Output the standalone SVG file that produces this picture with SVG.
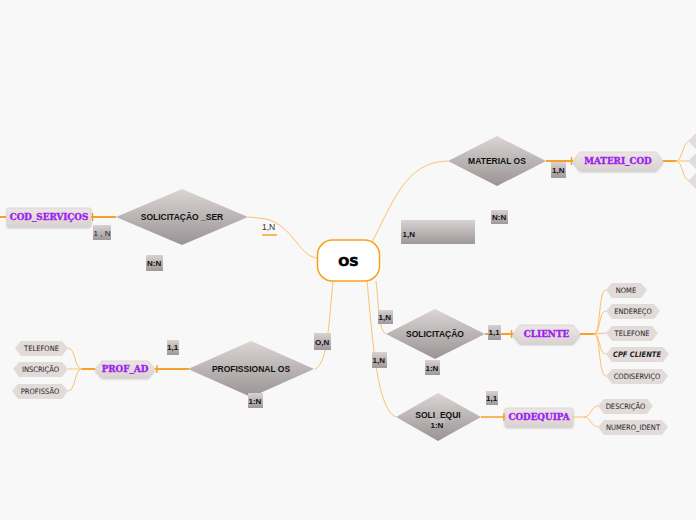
<svg xmlns="http://www.w3.org/2000/svg" width="696" height="520" viewBox="0 0 696 520">
<defs>
<linearGradient id="dg" x1="0" y1="0" x2="0" y2="1"><stop offset="0" stop-color="#dcd5d4"/><stop offset="1" stop-color="#999395"/></linearGradient>
<linearGradient id="eg" x1="0" y1="0" x2="0" y2="1"><stop offset="0" stop-color="#ece6e5"/><stop offset="1" stop-color="#dcd3d2"/></linearGradient>
<linearGradient id="cg" x1="0" y1="0" x2="0" y2="1"><stop offset="0" stop-color="#d8d2d2"/><stop offset="1" stop-color="#9e989a"/></linearGradient>
<filter id="sh" x="-10%" y="-20%" width="130%" height="160%"><feDropShadow dx="0" dy="1.5" stdDeviation="1" flood-color="#000" flood-opacity="0.25"/></filter>
</defs>
<style>
.dia{fill:url(#dg)}
.dt{font-family:"Liberation Sans",Arial,sans-serif;font-weight:bold;font-size:8.5px;fill:#111;text-anchor:middle;dominant-baseline:central}
.ent{fill:url(#eg);stroke:#d4cbca;stroke-width:0.6;filter:url(#sh)}
.et{font-family:"DejaVu Serif",serif;font-weight:bold;font-size:8.8px;fill:#9b22f0;text-anchor:middle;dominant-baseline:central;stroke:#9b22f0;stroke-width:0.35}
.att{fill:#e3dbda}
.at{font-family:"Liberation Sans Narrow","DejaVu Sans Condensed","DejaVu Sans",sans-serif;font-size:7.5px;fill:#222;text-anchor:middle;dominant-baseline:central}
.cb{fill:url(#cg)}
.ct{font-family:"Liberation Sans",Arial,sans-serif;font-weight:bold;font-size:8px;fill:#111;dominant-baseline:central}
.lc{fill:none;stroke:#fbc16e;stroke-width:1}
.lt{fill:none;stroke:#f6a22a;stroke-width:2}
.tee{stroke:#f6a22a;stroke-width:1.5}
</style>
<rect width="696" height="520" fill="#f8f8f8"/>
<g id="connectors">
<path class="lc" d="M248,217 L258,218 C292,219 298,258 318,258"/>
<line class="lt" x1="0" y1="217" x2="6" y2="217"/>
<line class="lt" x1="91" y1="217" x2="116" y2="217"/><line class="tee" x1="92.5" y1="213" x2="92.5" y2="221"/>
<path class="lc" d="M372,242 C392,205 405,161 448,161"/>
<line class="lt" x1="546" y1="161" x2="573" y2="161"/><line class="tee" x1="571.5" y1="157" x2="571.5" y2="165"/>
<path class="lt" d="M663,161 L676,161"/>
<path class="lc" d="M676,161 C683,161 682,141 690,141 M676,161 L690,161 M676,161 C683,161 682,181 690,181"/>
<path class="lc" d="M376,281 C379,305 378,330 386,334"/>
<path class="lc" d="M367,281 C372,330 376,410 396,417"/>
<path class="lc" d="M333,281 C329,320 328,364 315,369"/>
<line class="lt" x1="485" y1="334" x2="513" y2="334"/><line class="tee" x1="511.5" y1="330" x2="511.5" y2="338"/>
<path class="lt" d="M580,334 L594,334"/>
<path class="lc" d="M594,334 C601,334 598,290 606,290 M594,334 C601,334 598,311 606,311 M594,334 L606,333 M594,334 C601,334 598,354 606,354 M594,334 C601,334 598,376 606,376"/>
<line class="lt" x1="189" y1="369" x2="155" y2="369"/><line class="tee" x1="157" y1="365" x2="157" y2="373"/>
<path class="lt" d="M95,369 L82,369"/>
<path class="lc" d="M82,369 C74,369 76,348 68,348 M82,369 L68,369 M82,369 C74,369 76,391 68,391"/>
<line class="lt" x1="481" y1="417" x2="505" y2="417" style="stroke-width:1.5"/><line class="tee" x1="504" y1="413" x2="504" y2="421"/>
<path class="lc" d="M573,417 L584,417 C591,417 591,406 598,406 M584,417 C591,417 591,427 598,427"/>
<line x1="262" y1="235" x2="277" y2="235" stroke="#f6a22a" stroke-width="1.5"/>
</g>
<g id="os">
<rect x="317.5" y="240" width="62" height="41" rx="15" fill="#fff" stroke="#f7a21b" stroke-width="1.5"/>
<text x="348.5" y="261" style="font-family:'DejaVu Sans',sans-serif;font-weight:bold;font-size:13px;fill:#000;stroke:#000;stroke-width:0.6;text-anchor:middle;dominant-baseline:central">OS</text>
</g>
<g id="solicitacao_ser">
<polygon class="dia" points="182,189 248,217 182,245 116,217"/>
<text class="dt" x="182" y="217">SOLICITAÇÃO _SER</text>
</g>
<g id="material_os">
<polygon class="dia" points="497,136 546,161 497,186 448,161"/>
<text class="dt" x="497" y="161">MATERIAL OS</text>
</g>
<g id="solicitacao">
<polygon class="dia" points="435,309 485,334 435,359 386,334"/>
<text class="dt" x="435" y="334">SOLICITAÇÃO</text>
</g>
<g id="profissional_os">
<polygon class="dia" points="251,341 314,369 251,397 188,369"/>
<text class="dt" x="251" y="369">PROFISSIONAL OS</text>
</g>
<g id="soli_equi">
<polygon class="dia" points="438,393 481,417 438,441 396,417"/>
<text class="dt" x="438" y="415">SOLI_EQUI</text>
</g>
<g id="cod_servicos">
<rect class="ent" x="7" y="208" width="84" height="18" rx="2"/>
<text class="et" x="49" y="217">COD_SERVIÇOS</text>
</g>
<g id="materi_cod">
<polygon class="ent" points="580,152 656,152 663,161 656,170 580,170 573,161"/>
<text class="et" x="618" y="161">MATERI_COD</text>
</g>
<g id="cliente">
<polygon class="ent" points="520,325 573,325 580,334 573,343 520,343 513,334"/>
<text class="et" x="546.5" y="334">CLIENTE</text>
</g>
<g id="prof_ad">
<polygon class="ent" points="102,361 148,361 155,369 148,377 102,377 95,369"/>
<text class="et" x="125" y="369">PROF_AD</text>
</g>
<g id="codequipa">
<rect class="ent" x="505" y="408" width="68" height="18" rx="2"/>
<text class="et" x="539" y="417">CODEQUIPA</text>
</g>
<g id="materi_attrs">
<polygon class="att" points="696,133 696,149 688,141"/>
<polygon class="att" points="696,153 696,169 688,161"/>
<polygon class="att" points="696,173 696,189 688,181"/>
</g>
<g id="att_nome"><polygon class="att" points="612,283 641,283 647,290 641,298 612,298 606,290"/><text class="at" x="626" y="290.5">NOME</text></g>
<g id="att_endereco"><polygon class="att" points="612,304 654,304 660,311 654,319 612,319 606,311"/><text class="at" x="633" y="311.5">ENDEREÇO</text></g>
<g id="att_telefone_c"><polygon class="att" points="612,326 652,326 658,333 652,341 612,341 606,333"/><text class="at" x="632" y="333.5">TELEFONE</text></g>
<g id="att_cpf"><polygon class="att" points="612,347 663,347 669,354 663,362 612,362 606,354"/><text class="at" x="637" y="354.5" style="font-style:italic;font-weight:bold">CPF CLIENTE</text></g>
<g id="att_codiservico"><polygon class="att" points="612,369 662,369 668,376 662,384 612,384 606,376"/><text class="at" x="637" y="376.5">CODISERVIÇO</text></g>
<g id="att_telefone_p"><polygon class="att" points="21,341 62,341 68,348 62,356 21,356 15,348"/><text class="at" x="41.5" y="348.5">TELEFONE</text></g>
<g id="att_inscricao"><polygon class="att" points="19,362 62,362 68,369 62,377 19,377 13,369"/><text class="at" x="40.5" y="369.5">INSCRIÇÃO</text></g>
<g id="att_profissao"><polygon class="att" points="18,384 62,384 68,391 62,399 18,399 12,391"/><text class="at" x="40" y="391.5">PROFISSÃO</text></g>
<g id="att_descricao"><polygon class="att" points="604,399 647,399 653,406 647,414 604,414 598,406"/><text class="at" x="625.5" y="406.5">DESCRIÇÃO</text></g>
<g id="att_numero"><polygon class="att" points="604,420 662,420 668,427 662,435 604,435 598,427"/><text class="at" x="633" y="427.5">NUMERO_IDENT</text></g>
<g id="card_1n_cod"><rect class="cb" x="93" y="225" width="18" height="15"/><text x="102" y="233" style="font-family:'Liberation Sans',Arial,sans-serif;font-size:8px;fill:#222;text-anchor:middle;dominant-baseline:central">1 , N</text></g>
<g id="card_nn_1"><rect class="cb" x="146" y="255" width="17" height="16"/><text class="ct" x="147" y="263.5">N:N</text></g>
<g id="card_1n_ser"><text x="262" y="227" style="font-family:'Liberation Sans',Arial,sans-serif;font-size:8.5px;fill:#333;dominant-baseline:central">1,N</text></g>
<g id="card_1n_mat"><rect class="cb" x="551" y="162" width="15" height="16"/><text class="ct" x="552" y="170.5">1,N</text></g>
<g id="card_nn_2"><rect class="cb" x="491" y="210" width="17" height="14"/><text class="ct" x="492" y="217.5">N:N</text></g>
<g id="card_1n_big"><rect class="cb" x="401" y="220" width="74" height="24"/><text class="ct" x="402.5" y="234">1,N</text></g>
<g id="card_1n_sol"><rect class="cb" x="378" y="310" width="15" height="14"/><text class="ct" x="378.5" y="317.5">1,N</text></g>
<g id="card_1n_eq"><rect class="cb" x="372" y="352" width="15" height="16"/><text class="ct" x="372.5" y="360">1,N</text></g>
<g id="card_11_cli"><rect class="cb" x="488" y="325" width="13" height="15"/><text class="ct" x="488.5" y="332.5">1,1</text></g>
<g id="card_1n_solb"><rect class="cb" x="425" y="360" width="15" height="15"/><text class="ct" x="425.5" y="368">1:N</text></g>
<g id="card_11_prof"><rect class="cb" x="167" y="340" width="12" height="15"/><text class="ct" x="167" y="347.5">1,1</text></g>
<g id="card_on"><rect class="cb" x="314" y="333" width="17" height="17"/><text class="ct" x="315" y="342">O,N</text></g>
<g id="card_1n_prof"><rect class="cb" x="248" y="393" width="15" height="15"/><text class="ct" x="248.5" y="401">1:N</text></g>
<g id="card_11_eq"><rect class="cb" x="486" y="391" width="12" height="14"/><text class="ct" x="486" y="398">1,1</text></g>
<g id="card_1n_soli"><rect class="cb" x="430" y="418" width="15" height="13" style="opacity:0.5"/><text class="ct" x="430.5" y="425">1:N</text></g>
</svg>
